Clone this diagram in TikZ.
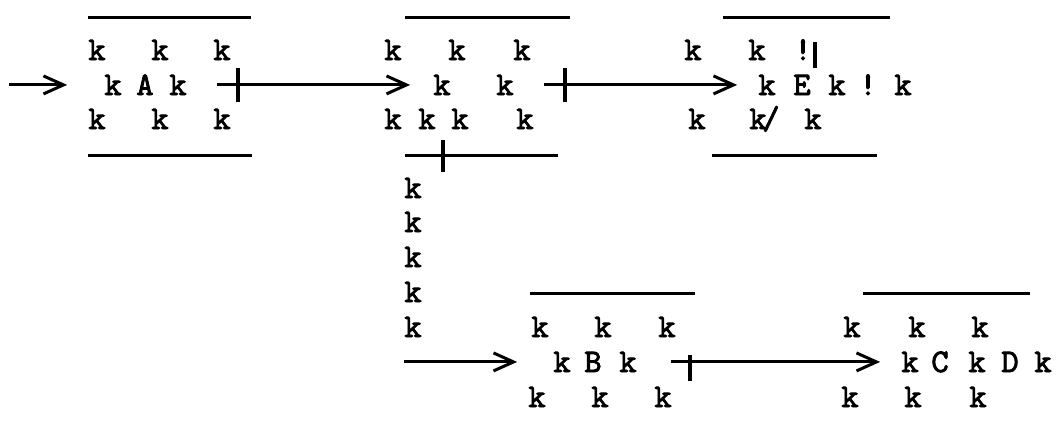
\documentclass[tikz,border=0pt]{standalone}
\usepackage{fontspec}
\setmonofont{lmmono10-regular}[Extension=.otf, FakeBold=2.5]
\usetikzlibrary{arrows.meta, positioning}
\tikzset{every node/.style={font=\ttfamily\fontsize{33}{33}\selectfont, inner sep=0pt, anchor=base},
         bar/.style={line width=3pt},
         tick/.style={line width=3.2pt},
         wire/.style={line width=3pt, -{Straight Barb[length=20pt, width=18pt]}},
         }
\begin{document}
\begin{tikzpicture}[x=1pt, y=-1pt]
    \useasboundingbox (0,0) rectangle (1057,429);

    % box A
    \draw[bar] (88,17) -- (251,17);
    \node (a1) at (97,60) {k};
    \node (a2) at (160,60) {k};
    \node (a3) at (222,60) {k};
    \node (a4) at (113,95) {k};
    \node (A) at (145,95) {A};
    \node (a5) at (178,95) {k};
    \node (a6) at (97,129) {k};
    \node (a7) at (160,129) {k};
    \node (a8) at (222,129) {k};
    \draw[bar] (88,155) -- (252,155);

    % middle box
    \draw[bar] (405,17) -- (570,17);
    \node (x1) at (393,60) {k};
    \node (x2) at (457,60) {k};
    \node (x3) at (522,60) {k};
    \node (x4) at (442,95) {k};
    \node (x5) at (505,95) {k};
    \node (x6) at (393,129) {k};
    \node (x7) at (427,129) {k};
    \node (x8) at (460,129) {k};
    \node (x9) at (525,129) {k};
    \draw[bar] (405,155) -- (558,155);
    \draw[tick] (443,140) -- (443,172);

    % column down to B
    \node (v1) at (413,198) {k};
    \node (v2) at (413,232) {k};
    \node (v3) at (413,267) {k};
    \node (v4) at (413,302) {k};
    \node (v5) at (413,337) {k};

    % box E
    \draw[bar] (723,17) -- (890,17);
    \node (e1) at (693,60) {k};
    \node (e2) at (757,60) {k};
    \node (e3) at (803,60) {!};
    \draw[tick] (815,42) -- (815,68);
    \node (e4) at (767,95) {k};
    \node (E) at (802,95) {E};
    \node (e5) at (837,95) {k};
    \node (e6) at (868,95) {!};
    \node (e7) at (903,95) {k};
    \node (e8) at (697,129) {k};
    \node (e9) at (758,129) {k};
    \node (e10) at (771,129) {/};
    \node (e11) at (813,129) {k};
    \draw[bar] (712,155) -- (877,155);

    % box B
    \draw[bar] (530,293) -- (695,293);
    \node (b1) at (540,337) {k};
    \node (b2) at (603,337) {k};
    \node (b3) at (667,337) {k};
    \node (b4) at (562,372) {k};
    \node (B) at (593,372) {B};
    \node (b5) at (628,372) {k};
    \node (b6) at (537,407) {k};
    \node (b7) at (600,407) {k};
    \node (b8) at (663,407) {k};

    % box C D
    \draw[bar] (863,293) -- (1030,293);
    \node (c1) at (852,337) {k};
    \node (c2) at (917,337) {k};
    \node (c3) at (980,337) {k};
    \node (c4) at (910,372) {k};
    \node (C) at (940,372) {C};
    \node (c5) at (977,372) {k};
    \node (D) at (1010,372) {D};
    \node (c6) at (1043,372) {k};
    \node (c7) at (850,407) {k};
    \node (c8) at (913,407) {k};
    \node (c9) at (978,407) {k};

    \coordinate[left=95pt of a4.west] (in);
    \coordinate[left=149pt of b4.west] (down);

    \draw[tick] (238,68) -- (238,102);
    \draw[tick] (565,68) -- (565,102);
    \draw[tick] (690,355) -- (690,381);

    \draw   (in) edge[wire, shorten >=37pt] (a4.west)
            (a5.east) edge[wire, shorten <=30pt, shorten >=23pt] (x4.west)
            (x5.east) edge[wire, shorten <=30pt, shorten >=21pt] (e4.west)
            (down) edge[wire, shorten >=36pt] (b4.west)
            (b5.east) edge[wire, shorten <=34pt, shorten >=21pt] (c4.west);
\end{tikzpicture}
\end{document}
